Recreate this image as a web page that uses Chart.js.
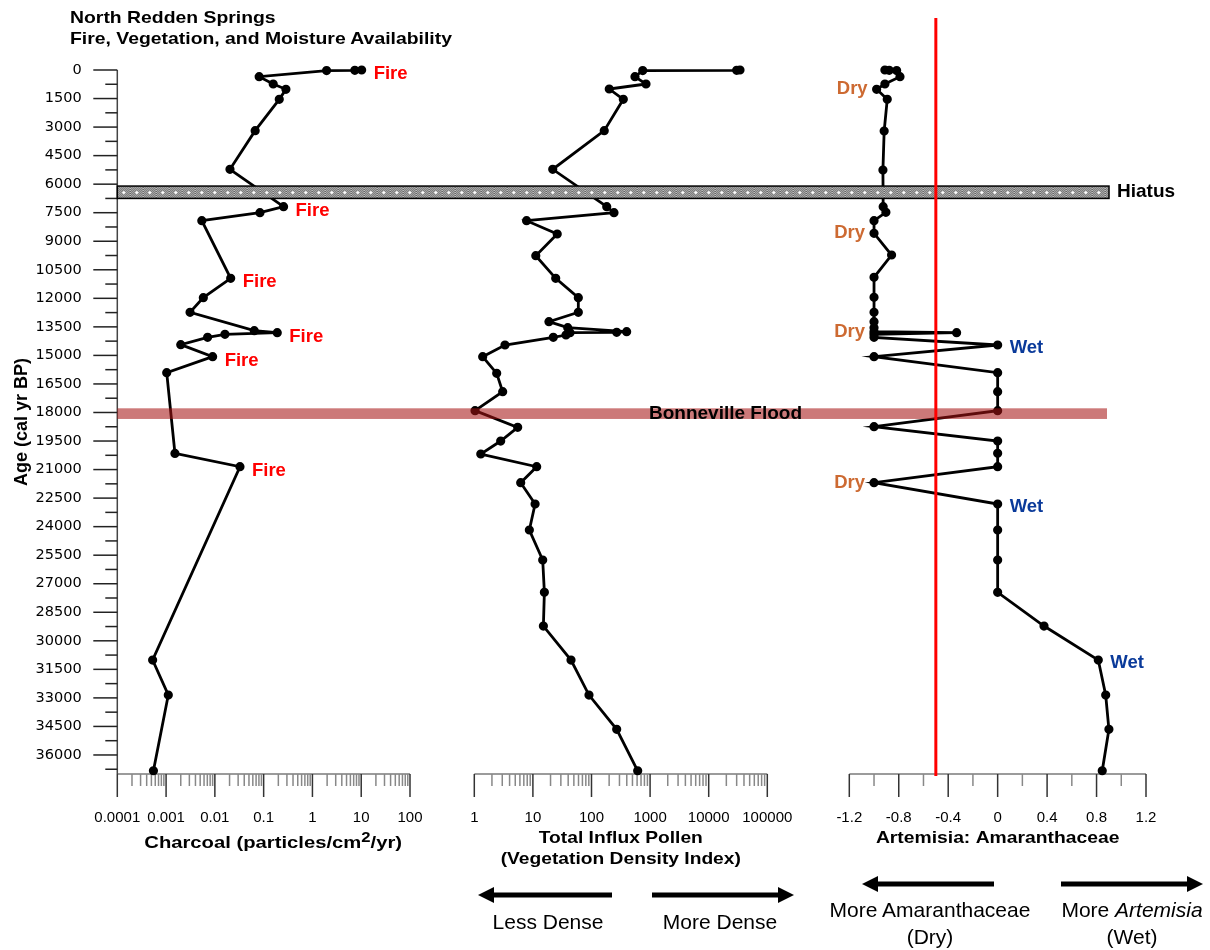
<!DOCTYPE html>
<html>
<head>
<meta charset="utf-8">
<title>North Redden Springs</title>
<script src="https://cdn.jsdelivr.net/npm/chart.js@4.4.1/dist/chart.umd.min.js"></script>
<style>
  html, body { margin: 0; padding: 0; background: #fff; }
  #page { position: relative; width: 1210px; height: 950px; overflow: hidden;
          font-family: "Liberation Sans", Arial, sans-serif; }
  #page canvas { position: absolute; left: 0; top: 0; }
  .txt { position: absolute; white-space: nowrap; color: #000; }
  #title { left: 70px; top: 7px; font-weight: bold; font-size: 17px; line-height: 21px;
           transform: scaleX(1.14); transform-origin: 0 0; }
  .cap { font-size: 21px; line-height: 27px; text-align: center; width: 240px; }
</style>
</head>
<body>
<div id="page">
  <canvas id="charcoal" width="1210" height="950"></canvas>
  <canvas id="pollen" width="1210" height="950"></canvas>
  <canvas id="ratio" width="1210" height="950"></canvas>
  <div id="title" class="txt">North Redden Springs<br>Fire, Vegetation, and Moisture Availability</div>
  <div class="txt cap" style="left:428px; top:908px;">Less Dense</div>
  <div class="txt cap" style="left:600px; top:908px;">More Dense</div>
  <div class="txt cap" style="left:810px; top:896px;">More Amaranthaceae<br>(Dry)</div>
  <div class="txt cap" style="left:1012px; top:896px;">More <i>Artemisia</i><br>(Wet)</div>
</div>
<script>
// values (age in cal yr BP)
const charcoalAge = [0, 15, 30, 350, 736, 1016, 1541, 3188, 5220, 7184, 7499, 7921, 10950, 11965,
  12737, 13700, 13805, 13893, 14050, 14436, 15067, 15908, 20150, 20850, 31010, 32850, 36830];
const charcoalVal = [10.2, 7.4, 1.95, 0.081, 0.157, 0.286, 0.209, 0.067, 0.0204, 0.256, 0.084, 0.0054,
  0.0211, 0.0058, 0.0031, 0.0642, 0.19, 0.0161, 0.0071, 0.002, 0.009, 0.00103, 0.00152, 0.0327,
  0.00053, 0.00111, 0.00055];

const pollenAge = [0, 15, 30, 350, 736, 999, 1541, 3188, 5220, 7184, 7499, 7921, 8620, 9760, 10950,
  11965, 12737, 13228, 13543, 13753, 13788, 13805, 13928, 14050, 14454, 15067, 15943, 16908, 17905,
  18780, 19500, 20183, 20850, 21690, 22810, 24177, 25754, 27452, 29223, 31010, 32850, 34654, 36830];
const pollenVal = [34200, 30000, 748, 552, 851, 201, 349, 165, 21.8, 182, 242, 7.8, 26, 11.2, 24.5,
  59.6, 59.6, 18.8, 39.3, 398, 269, 43, 36.7, 22.3, 3.34, 1.39, 2.41, 3.05, 1.03,
  5.5, 2.82, 1.29, 11.6, 6.19, 10.9, 8.7, 14.7, 15.7, 15.1, 44.7, 90.6, 269, 614];

const ratioAge = [0, 15, 30, 350, 736, 1016, 1541, 3206, 5256, 7184, 7480, 7921, 8585, 9724, 10896,
  11948, 12737, 13228, 13543, 13753, 13805, 13893, 14050, 14454, 15067, 15908, 16908, 17905, 18746,
  19500, 20148, 20850, 21690, 22810, 24177, 25754, 27452, 29223, 31010, 32850, 34654, 36830];
const ratioVal = [-0.912, -0.877, -0.817, -0.79, -0.912, -0.979, -0.893, -0.918, -0.928, -0.926,
  -0.904, -1.0, -1.0, -0.858, -1.0, -1.0, -1.0, -1.0, -1.0, -1.0, -0.332, -1.0, -1.0, 0, -1.0, 0, 0, 0,
  -1.0, 0, 0, 0, -1.0, 0, 0, 0, 0, 0.375, 0.814, 0.874, 0.90, 0.846];

const charcoalDecades = [0.0001, 0.001, 0.01, 0.1, 1, 10, 100];
const pollenDecades = [1, 10, 100, 1000, 10000, 100000];
const ratioLabels = [-1.2, -0.8, -0.4, 0, 0.4, 0.8, 1.2];

const hiatusAges = [6100, 6750];
const floodAges = [17780, 18340];
const ratioThreshold = -0.5;

// which samples carry a Fire / Dry / Wet note
const fireIdx = [0, 9, 12, 16, 20, 23];
const dryIdx = [5, 12, 19, 32];
const wetIdx = [23, 33, 38];

const SANS = '"Liberation Sans", Arial, sans-serif';
const AREA_TOP = 70, AREA_BOTTOM = 774, XAXIS_H = 100;

function logTicks(decades) {
  const out = [];
  decades.forEach((d, k) => {
    out.push({ value: d, major: true });
    if (k < decades.length - 1) {
      for (let m = 2; m <= 9; m++) out.push({ value: Number((m * d).toPrecision(6)), major: false });
    }
  });
  return out;
}

function ratioTicks() {
  const out = [];
  for (let k = -6; k <= 6; k++) {
    const v = Number((k * 0.2).toFixed(1));
    out.push({ value: v, major: ratioLabels.includes(v) });
  }
  return out;
}

function ageTicks() {
  const out = [];
  for (let v = 0; v < 37000; v += 750) out.push({ value: v, major: v % 1500 === 0 });
  return out;
}

function zeroPad(s) {
  s.paddingLeft = 0; s.paddingRight = 0; s.paddingTop = 0; s.paddingBottom = 0;
}

function series(ages, vals) {
  return {
    data: ages.map((a, i) => ({ x: vals[i], y: a })),
    showLine: true,
    borderColor: '#000',
    borderWidth: 2.8,
    pointRadius: 3.2,
    pointBackgroundColor: '#000',
    pointBorderColor: '#000',
    tension: 0,
    clip: false
  };
}

// tick marks and axis lines (major ticks longer than minor ones)
const axisMarks = {
  id: 'axisMarks',
  beforeDatasetsDraw(chart) {
    const ctx = chart.ctx;
    const xs = chart.scales.x;
    ctx.save();
    ctx.lineWidth = 1.5;
    ctx.strokeStyle = '#7a7a7a';
    ctx.beginPath();
    ctx.moveTo(xs.left, xs.top);
    ctx.lineTo(xs.right, xs.top);
    ctx.stroke();
    xs.ticks.forEach(t => {
      const px = xs.getPixelForValue(t.value);
      ctx.strokeStyle = t.major ? '#333' : '#888';
      ctx.beginPath();
      ctx.moveTo(px, xs.top);
      ctx.lineTo(px, xs.top + (t.major ? 23 : 12));
      ctx.stroke();
    });
    const ys = chart.scales.y;
    if (ys.options.display) {
      ctx.strokeStyle = '#444';
      ctx.beginPath();
      ctx.moveTo(ys.right, ys.top);
      ctx.lineTo(ys.right, ys.bottom);
      ctx.stroke();
      ys.ticks.forEach(t => {
        const py = ys.getPixelForValue(t.value);
        ctx.strokeStyle = '#222';
        ctx.beginPath();
        ctx.moveTo(ys.right - (t.major ? 24 : 12), py);
        ctx.lineTo(ys.right, py);
        ctx.stroke();
      });
    }
    ctx.restore();
  }
};

// bold axis titles under each panel, a bit wider than plain Arial like the original
const axisTitle = {
  id: 'axisTitle',
  afterDraw(chart, args, opts) {
    const xs = chart.scales.x;
    const ctx = chart.ctx;
    const cx = (xs.left + xs.right) / 2 + (opts.shift || 0);
    const main = 'bold 17px ' + SANS, sup = 'bold 14px ' + SANS;
    ctx.save();
    ctx.fillStyle = '#000';
    ctx.textBaseline = 'middle';
    ctx.textAlign = 'left';
    opts.lines.forEach((runs, k) => {
      let w = 0;
      runs.forEach(r => { ctx.font = r.sup ? sup : main; w += ctx.measureText(r.t).width; });
      ctx.save();
      ctx.translate(cx, xs.top + opts.offset + k * opts.gap);
      ctx.scale(opts.sx, 1);
      let x = -w / 2;
      runs.forEach(r => {
        ctx.font = r.sup ? sup : main;
        ctx.fillText(r.t, x, r.sup ? -5 : 0);
        x += ctx.measureText(r.t).width;
      });
      ctx.restore();
    });
    ctx.restore();
  }
};

// "Fire" / "Dry" / "Wet" notes beside samples
const pointNotes = {
  id: 'pointNotes',
  afterDatasetsDraw(chart, args, opts) {
    const meta = chart.getDatasetMeta(0);
    const ctx = chart.ctx;
    ctx.save();
    ctx.font = 'bold 18.5px ' + SANS;
    ctx.textBaseline = 'middle';
    (opts.items || []).forEach(n => {
      const pt = meta.data[n.index];
      ctx.fillStyle = n.color;
      ctx.textAlign = n.side === 'left' ? 'right' : 'left';
      ctx.fillText(n.text, pt.x + (n.side === 'left' ? -n.gap : n.gap), pt.y + n.dy);
    });
    ctx.restore();
  }
};

function hatchTile(h) {
  const c = document.createElement('canvas');
  c.width = 13; c.height = h;
  const g = c.getContext('2d');
  for (let i = 0; i < 13; i++) {
    for (let j = 0; j < h; j++) {
      g.fillStyle = (i + j) % 2 ? '#555' : '#cfcfcf';
      g.fillRect(i, j, 1, 1);
    }
  }
  const mid = Math.floor(h / 2);
  g.fillStyle = '#fff';
  g.fillRect(5, mid, 3, 1);
  g.fillRect(6, mid - 1, 1, 3);
  return c;
}

function arrow(ctx, xFrom, xTo, y) {
  const dir = Math.sign(xTo - xFrom), head = 16, half = 8;
  const base = xTo - dir * head;
  ctx.fillStyle = '#000';
  ctx.fillRect(Math.min(xFrom, base), y - 2.5, Math.abs(base - xFrom), 5);
  ctx.beginPath();
  ctx.moveTo(xTo, y);
  ctx.lineTo(base, y - half);
  ctx.lineTo(base, y + half);
  ctx.closePath();
  ctx.fill();
}

let charcoalChart;

// bands, threshold line, band labels and arrows, drawn on the top canvas
const overlay = {
  id: 'overlay',
  afterDraw(chart) {
    const ctx = chart.ctx;
    const ys = chart.scales.y;
    const left = charcoalChart.chartArea.left;
    ctx.save();

    const f0 = ys.getPixelForValue(floodAges[0]), f1 = ys.getPixelForValue(floodAges[1]);
    ctx.fillStyle = 'rgba(165,20,20,0.57)';
    ctx.fillRect(left, f0, 1107 - left, f1 - f0);

    const h0 = ys.getPixelForValue(hiatusAges[0]), h1 = ys.getPixelForValue(hiatusAges[1]);
    ctx.save();
    ctx.translate(left, h0);
    ctx.fillStyle = ctx.createPattern(hatchTile(Math.round(h1 - h0)), 'repeat');
    ctx.fillRect(0, 0, 1109 - left, h1 - h0);
    ctx.strokeStyle = '#000';
    ctx.lineWidth = 1.5;
    ctx.strokeRect(0, 0, 1109 - left, h1 - h0);
    ctx.restore();

    ctx.font = 'bold 19px ' + SANS;
    ctx.textBaseline = 'middle';
    ctx.textAlign = 'left';
    ctx.fillStyle = '#000';
    ctx.fillText('Bonneville Flood', 649, (f0 + f1) / 2);
    ctx.fillText('Hiatus', 1117, (h0 + h1) / 2);

    const tx = chart.scales.x.getPixelForValue(ratioThreshold);
    ctx.strokeStyle = '#ff0000';
    ctx.lineWidth = 3;
    ctx.beginPath();
    ctx.moveTo(tx, 18);
    ctx.lineTo(tx, 776);
    ctx.stroke();

    arrow(ctx, 612, 478, 895);
    arrow(ctx, 652, 794, 895);
    arrow(ctx, 994, 862, 884);
    arrow(ctx, 1061, 1203, 884);
    ctx.restore();
  }
};

function panelOptions(p) {
  return {
    responsive: false,
    animation: false,
    events: [],
    layout: { padding: { left: p.left, right: 1210 - p.right, top: AREA_TOP, bottom: 950 - AREA_BOTTOM - XAXIS_H } },
    plugins: {
      legend: { display: false },
      tooltip: { enabled: false },
      pointNotes: { items: p.notes },
      axisTitle: p.title
    },
    scales: {
      x: {
        type: p.type,
        min: p.min,
        max: p.max,
        position: 'bottom',
        grid: { display: false, drawTicks: false },
        border: { display: false },
        afterBuildTicks: s => { s.ticks = p.ticks(); },
        afterFit: s => { s.height = XAXIS_H; zeroPad(s); },
        ticks: {
          autoSkip: false, maxRotation: 0, padding: 35, color: '#000',
          font: { family: SANS, size: 15 },
          callback: (v, i, t) => (t[i].major ? String(v) : '')
        },
        title: { display: false }
      },
      y: {
        type: 'linear',
        min: 0,
        max: 37000,
        reverse: true,
        display: p.showY,
        grid: { display: false, drawTicks: false },
        border: { display: false },
        afterBuildTicks: s => { s.ticks = ageTicks(); },
        afterFit: s => { if (p.showY) s.width = 117.3; zeroPad(s); },
        ticks: {
          autoSkip: false, padding: 35.6, color: '#000',
          font: { family: '"DejaVu Sans", Verdana, sans-serif', size: 14.5 },
          callback: (v, i, t) => (t[i].major ? String(v) : '')
        },
        title: {
          display: true, text: 'Age (cal yr BP)', color: '#000',
          font: { family: SANS, size: 18, weight: 'bold' },
          padding: { top: 11, bottom: 0 }
        }
      }
    }
  };
}

charcoalChart = new Chart(document.getElementById('charcoal'), {
  type: 'scatter',
  data: { datasets: [series(charcoalAge, charcoalVal)] },
  options: panelOptions({
    left: 0, right: 410, showY: true,
    type: 'logarithmic', min: 0.0001, max: 100,
    ticks: () => logTicks(charcoalDecades),
    title: {
      lines: [[{ t: 'Charcoal (particles/cm' }, { t: '2', sup: true }, { t: '/yr)' }]],
      offset: 69, gap: 21, sx: 1.19, shift: 9.5
    },
    notes: fireIdx.map(i => ({ index: i, text: 'Fire', color: '#ff0000', side: 'right', gap: 12, dy: 4 }))
  }),
  plugins: [axisMarks, pointNotes, axisTitle]
});

const pollenChart = new Chart(document.getElementById('pollen'), {
  type: 'scatter',
  data: { datasets: [series(pollenAge, pollenVal)] },
  options: panelOptions({
    left: 474.3, right: 767.3, showY: false,
    type: 'logarithmic', min: 1, max: 100000,
    ticks: () => logTicks(pollenDecades),
    title: {
      lines: [[{ t: 'Total Influx Pollen' }], [{ t: '(Vegetation Density Index)' }]],
      offset: 64, gap: 21, sx: 1.13, shift: 0
    },
    notes: []
  }),
  plugins: [axisMarks, pointNotes, axisTitle]
});

const ratioChart = new Chart(document.getElementById('ratio'), {
  type: 'scatter',
  data: { datasets: [series(ratioAge, ratioVal)] },
  options: panelOptions({
    left: 849.3, right: 1146, showY: false,
    type: 'linear', min: -1.2, max: 1.2,
    ticks: ratioTicks,
    title: {
      lines: [[{ t: 'Artemisia: Amaranthaceae' }]],
      offset: 64, gap: 21, sx: 1.135, shift: 0
    },
    notes: dryIdx.map(i => ({ index: i, text: 'Dry', color: '#cd6a32', side: 'left', gap: 9, dy: 0 }))
      .concat(wetIdx.map(i => ({ index: i, text: 'Wet', color: '#0a3a9a', side: 'right', gap: 12, dy: 3 })))
  }),
  plugins: [axisMarks, pointNotes, axisTitle, overlay]
});
</script>
</body>
</html>
